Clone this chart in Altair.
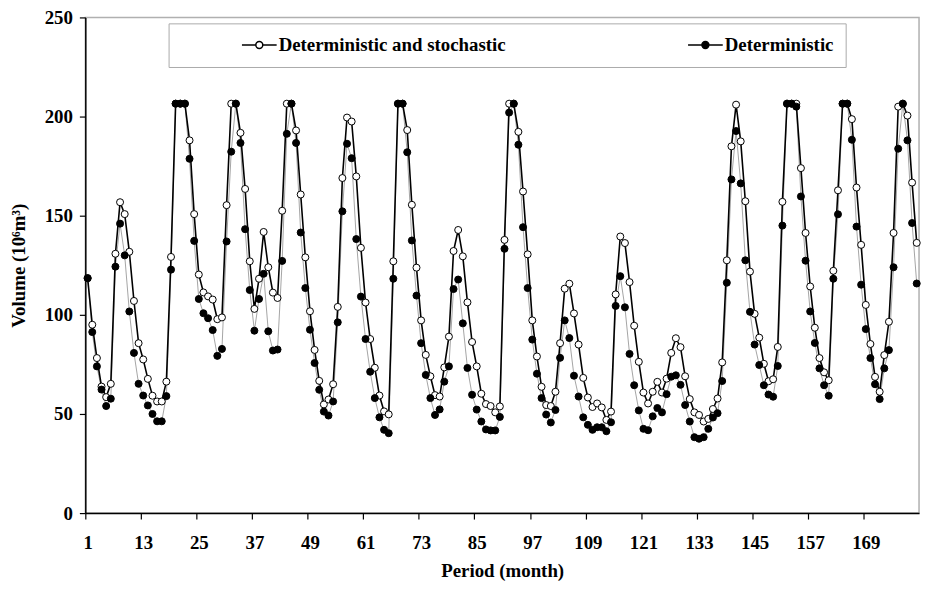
import altair as alt
import pandas as pd

# ---- data ----
periods = list(range(1, 181))

series_names = ["Deterministic and stochastic", "Deterministic"]

stochastic = [
    118.5, 95, 78.2, 63.8, 58.5, 65.2, 130.8, 156.8, 150.8, 131.8,
    107, 85.7, 77.5, 67.7, 59.2, 56.3, 56.3, 66.3, 129.2, 206.5,
    206.5, 206.5, 188, 150.8, 120.3, 111.3, 109.3, 107.7, 97.8, 98.7,
    155.3, 206.5, 206.5, 191.8, 163.5, 127, 103, 118.2, 141.8, 124,
    111.2, 108.5, 152.5, 206.5, 206.5, 193, 160.7, 129, 101.8, 82.3,
    66.7, 54.8, 57.3, 65, 104, 169, 199.5, 197.5, 169.8, 133.8,
    106.2, 87.8, 73.3, 59.3, 51.3, 49.8, 127, 206.5, 206.5, 193.2,
    155.5, 123.8, 97.2, 79.8, 69, 59.5, 58.8, 73.5, 89, 132.2,
    142.8, 129.5, 106.3, 86.3, 74, 60.2, 55, 54, 50.8, 53.8,
    137.8, 206.5, 206.5, 192.3, 162.2, 130.5, 97.2, 79, 63.7, 54.5,
    54, 61.2, 85.7, 113.2, 115.7, 100.7, 85, 68.2, 58.3, 53.5,
    55.3, 53.3, 47, 51.2, 110.3, 139.5, 136.2, 116.5, 94.5, 76.3,
    60.8, 55.3, 61.2, 66.2, 60.8, 67.8, 80.8, 88.2, 83.7, 69,
    57.5, 50.8, 49.5, 46.2, 47.5, 52.5, 57.8, 76, 127.5, 185,
    206, 187.5, 157.3, 121.8, 100.5, 88.5, 75.3, 66.5, 67.5, 83.8,
    157, 206.5, 206.5, 206.5, 174, 141.3, 114.3, 93.5, 78.2, 71,
    67, 122.2, 162.8, 206.5, 206.5, 198.7, 164.2, 135.3, 105, 85.3,
    68.7, 61.2, 79.7, 96.5, 141.3, 205, 206.5, 200.5, 166.7, 136.3,
]

deterministic = [
    118.5, 91.3, 74, 62.3, 54, 57.7, 124.3, 146, 130, 101.7,
    80.8, 65.2, 59.3, 54.3, 50, 46.3, 46.3, 59, 122.8, 206.5,
    206.5, 206.5, 178.7, 137.3, 108, 100.8, 98.3, 92.3, 79.3, 82.8,
    137, 182.3, 206.5, 186.7, 143.2, 112.5, 92, 108, 120.7, 91.7,
    82, 82.5, 127.2, 191.3, 206.5, 186.7, 141.5, 113.5, 92.5, 75.7,
    62.2, 51.2, 49.2, 56.3, 96.2, 152.2, 186.3, 179, 138.2, 109.2,
    87.8, 71.3, 58, 48.3, 42, 40.3, 118.2, 206.5, 206.5, 182,
    137.5, 109.7, 85.7, 69.7, 58, 49.5, 52.3, 66.3, 74, 113,
    117.8, 95.7, 73.2, 59.7, 52.2, 46.2, 42.2, 41.7, 41.7, 48.5,
    133.3, 202, 206.5, 185.8, 144.2, 113.5, 87.5, 70.3, 58, 49.7,
    45.7, 52, 78.3, 97.2, 88.3, 69.3, 58.8, 48.3, 44.5, 42,
    43.3, 43.3, 41.3, 45.8, 104.5, 119.5, 103.8, 80.3, 64.5, 51.8,
    42.5, 41.8, 48.8, 53, 50.8, 60, 68.8, 69.5, 64.7, 54.5,
    46.2, 38.3, 37.5, 38.3, 42.5, 48.2, 50.4, 66.6, 116.2, 168.3,
    192.7, 166.3, 127.5, 101.5, 85, 74.7, 64.5, 59.8, 58.7, 74.2,
    145, 206.5, 206.5, 205, 159.7, 127.3, 101.7, 85.8, 73, 64.5,
    59.2, 118.2, 150.7, 206.5, 206.5, 188.3, 144.5, 115.2, 92.8, 78.2,
    65, 57.5, 73, 82.2, 124, 183.8, 206.5, 188, 146.3, 115.8,
]

x_ticks = [1, 13, 25, 37, 49, 61, 73, 85, 97, 109, 121, 133, 145, 157, 169, 181]
y_ticks = [0, 50, 100, 150, 200, 250]

df = pd.DataFrame({
    "period": periods + periods,
    "volume": stochastic + deterministic,
    "series": [series_names[0]] * len(periods) + [series_names[1]] * len(periods),
})

FONT = "Liberation Serif"
FS = 19
PLOT_W = 841
HALF_CAT = PLOT_W / 180 / 2  # categories sit between tick marks

x_enc = alt.X(
    "period:Q",
    scale=alt.Scale(domain=[0.5, 180.5], nice=False, zero=False),
    axis=alt.Axis(
        values=x_ticks,
        labelExpr="datum.value > 180 ? '' : datum.label",
        title="Period (month)",
        grid=False,
        tickSize=6,
        tickOffset=-HALF_CAT,
        labelOffset=HALF_CAT,
        labelPadding=15,
        titlePadding=9,
    ),
)
y_enc = alt.Y(
    "volume:Q",
    scale=alt.Scale(domain=[0, 250], nice=False),
    axis=alt.Axis(
        values=y_ticks,
        title="Volume (10\u2076m\u00b3)",
        grid=False,
        tickSize=6,
        labelPadding=7,
        titlePadding=16,
    ),
)

base = alt.Chart(df)

line_det = base.transform_filter(alt.datum.series == series_names[1]).mark_line(
    color="#9a9a9a", strokeWidth=0.9
).encode(x=x_enc, y=y_enc)

line_sto = base.transform_filter(alt.datum.series == series_names[0]).mark_line(
    color="black", strokeWidth=1.6
).encode(x=x_enc, y=y_enc)

legend_symbol = "M-2.5,0H-0.5M0.5,0H2.5M0.5,0A0.5,0.5,0,1,1,-0.5,0A0.5,0.5,0,1,1,0.5,0Z"

points = base.mark_point(
    shape="circle", filled=True, stroke="black", strokeWidth=1, size=50, opacity=1
).encode(
    x=x_enc,
    y=y_enc,
    fill=alt.Fill(
        "series:N",
        scale=alt.Scale(domain=series_names, range=["white", "black"]),
        legend=alt.Legend(
            title=None,
            orient="none",
            legendX=84,
            legendY=6,
            direction="horizontal",
            symbolType=legend_symbol,
            symbolSize=196,
            symbolStrokeColor="black",
            symbolStrokeWidth=1.5,
            symbolOffset=70,
            labelOffset=10,
            columnPadding=121,
            padding=12,
            strokeColor="#aaaaaa",
            labelFont=FONT,
            labelFontWeight="bold",
            labelFontSize=FS,
            labelColor="black",
            labelLimit=400,
        ),
    ),
)

chart = alt.layer(line_det, line_sto, points).properties(
    width=PLOT_W,
    height=500,
    autosize=alt.AutoSizeParams(type="none"),
    padding={"left": 78, "top": 7, "right": 4, "bottom": 68},
).configure_view(
    stroke="#b0b0b0", strokeWidth=1.5
).configure_axis(
    domainColor="black",
    domainWidth=1.5,
    tickColor="black",
    tickWidth=1.2,
    labelFont=FONT,
    labelFontWeight="bold",
    labelFontSize=FS,
    labelColor="black",
    titleFont=FONT,
    titleFontWeight="bold",
    titleFontSize=FS,
    titleColor="black",
)

chart.save("out.html", embed_options={"renderer": "svg", "actions": False})
